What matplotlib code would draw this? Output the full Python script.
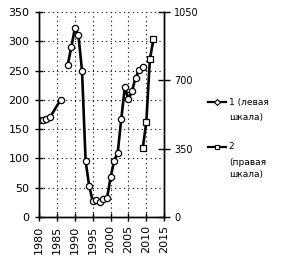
import numpy as np
import matplotlib
matplotlib.use('Agg')
import matplotlib.pyplot as plt
from matplotlib.lines import Line2D

# series 1 (left scale)
years1 = [1980, 1981, 1982, 1983, 1986, 1987, 1988, 1989, 1990, 1991, 1992,
          1993, 1994, 1995, 1996, 1997, 1998, 1999, 2000, 2001, 2002, 2003,
          2004, 2005, 2006, 2007, 2008, 2009]
vals1 = [165, 166, 168, 170, 200, np.nan, 260, 290, 322, 310, 249,
         96, 53, 27, 29, 26, 30, 32, 68, 96, 110, 168,
         222, 201, 215, 238, 251, 256]

# series 2 (right scale)
years2 = [2009, 2010, 2011, 2012]
vals2 = [352, 485, 808, 910]

xticks = [1980, 1985, 1990, 1995, 2000, 2005, 2010, 2015]
lticks = [0, 50, 100, 150, 200, 250, 300, 350]
rticks = [0, 350, 700, 1050]

fig = plt.figure(figsize=(2.86, 2.65), dpi=100)
ax = fig.add_axes([0.137, 0.181, 0.437, 0.774])
ax2 = ax.twinx()

ax.plot(years1, vals1, color='k', lw=1.9, marker='o', ms=4.5,
        mfc='white', mec='k', mew=0.9, zorder=3)
ax2.plot(years2, vals2, color='k', lw=1.9, marker='s', ms=4.3,
         mfc='white', mec='k', mew=0.9, zorder=3)

ax.set_xlim(1980, 2015)
ax.set_ylim(0, 350)
ax2.set_ylim(0, 1050)
ax.set_xticks(xticks)
ax.set_yticks(lticks)
ax2.set_yticks(rticks)
ax.set_xticklabels([str(y) for y in xticks], fontsize=8)
ax.set_yticklabels([str(v) for v in lticks], fontsize=8)
ax2.set_yticklabels([str(v) for v in rticks], fontsize=7)

ax.grid(True, color='k', linestyle=(0, (1, 3)), linewidth=0.8)
ax.tick_params(direction='inout', length=6, width=1, pad=4)
ax.tick_params(axis='x', labelrotation=90, pad=3)
ax2.tick_params(direction='inout', length=8, width=1, pad=3)
for a in (ax, ax2):
    a.spines['top'].set_visible(False)
    for s in ('left', 'right', 'bottom'):
        a.spines[s].set_linewidth(1)

# legend drawn by hand so the marker sits on the first text line
fs = 6.5
fig.add_artist(Line2D([0.727, 0.79], [0.615, 0.615], color='k', lw=1.6,
                      transform=fig.transFigure))
fig.add_artist(Line2D([0.758], [0.615], color='k', marker='D', ms=3,
                      mfc='white', mec='k', mew=0.8, transform=fig.transFigure))
fig.text(0.80, 0.615, '1 (левая', fontsize=fs, va='center')
fig.text(0.80, 0.555, 'шкала)', fontsize=fs, va='center')

fig.add_artist(Line2D([0.727, 0.79], [0.447, 0.447], color='k', lw=1.6,
                      transform=fig.transFigure))
fig.add_artist(Line2D([0.758], [0.447], color='k', marker='s', ms=3.5,
                      mfc='white', mec='k', mew=0.8, transform=fig.transFigure))
fig.text(0.80, 0.447, '2', fontsize=fs, va='center')
fig.text(0.80, 0.385, '(правая', fontsize=fs, va='center')
fig.text(0.80, 0.34, 'шкала)', fontsize=fs, va='center')

fig.savefig('out.png', dpi=100)
